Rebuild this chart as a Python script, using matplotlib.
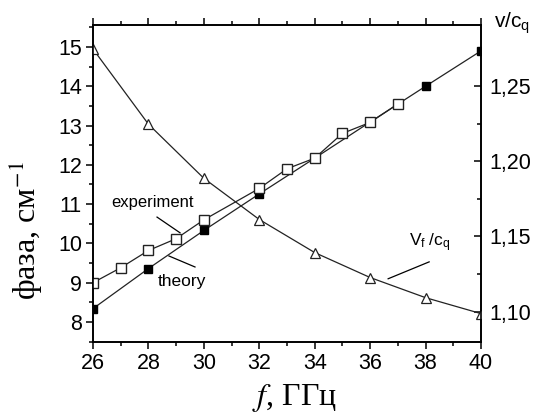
import matplotlib
matplotlib.use('Agg')
import matplotlib.pyplot as plt
from matplotlib.ticker import MultipleLocator, FuncFormatter

# данные
f_exp = [26, 27, 28, 29, 30, 32, 33, 34, 35, 36, 37]
phase_exp = [9.0, 9.38, 9.82, 10.12, 10.6, 11.4, 11.9, 12.17, 12.8, 13.08, 13.55]

f_theory = [26, 28, 30, 32, 34, 36, 38, 40]
phase_theory = [8.34, 9.36, 10.33, 11.26, 12.17, 13.09, 14.0, 14.9]

f_vel = [26, 28, 30, 32, 34, 36, 38, 40]
v_ratio = [1.2747, 1.2247, 1.1887, 1.1613, 1.1393, 1.1227, 1.1093, 1.0987]

x_ticks = [26, 28, 30, 32, 34, 36, 38, 40]
left_ticks = [8, 9, 10, 11, 12, 13, 14, 15]
right_ticks = [1.10, 1.15, 1.20, 1.25]

sans = ['Liberation Sans', 'DejaVu Sans']
serif = ['Liberation Serif', 'DejaVu Serif']
plt.rcParams['font.family'] = sans
plt.rcParams['mathtext.fontset'] = 'stix'

fig = plt.figure(figsize=(5.38, 4.18), dpi=100)
ax = fig.add_axes([0.1729, 0.1818, 0.894 - 0.1729, 0.9402 - 0.1818])
ax2 = ax.twinx()

ax.plot(f_theory, phase_theory, color='#222222', lw=0.9, marker='s', ms=6,
        mfc='black', mec='black', zorder=2)
ax.plot(f_exp, phase_exp, color='#222222', lw=0.9, marker='s', ms=7.5,
        mfc='white', mec='#222222', mew=1.0, zorder=3)
ax2.plot(f_vel, v_ratio, color='#222222', lw=0.9, marker='^', ms=7,
         mfc='white', mec='#222222', mew=0.9)

ax.set_xlim(26, 40)
ax.set_ylim(7.49, 15.56)
ax2.set_ylim(1.0798, 1.2907)

ax.set_xticks(x_ticks)
ax.set_yticks(left_ticks)
ax2.set_yticks(right_ticks)
ax.xaxis.set_minor_locator(MultipleLocator(1))
ax.yaxis.set_minor_locator(MultipleLocator(0.5))
ax2.yaxis.set_minor_locator(MultipleLocator(0.025))
ax2.yaxis.set_major_formatter(FuncFormatter(lambda v, _: f'{v:.2f}'.replace('.', ',')))

ax.tick_params(axis='both', which='both', labelsize=15.5, width=1.1)
ax.tick_params(axis='x', which='major', direction='out', length=5, top=True, pad=3)
ax.tick_params(axis='x', which='minor', direction='out', length=3, top=True)
ax.tick_params(axis='y', which='major', direction='out', length=5, pad=3)
ax.tick_params(axis='y', which='minor', direction='out', length=3)
ax2.tick_params(axis='y', which='major', direction='in', length=5, width=1.1,
                labelsize=15.5, pad=6)
ax2.tick_params(axis='y', which='minor', direction='in', length=3, width=1.1)

for a in (ax, ax2):
    for s in a.spines.values():
        s.set_linewidth(1.2)

ax.set_xlabel('$f$, ГГц', fontsize=23, family=serif)
ax.xaxis.set_label_coords(0.52, -0.125)
ax.set_ylabel('фаза, см$^{-1}$', fontsize=23, family=serif)
ax.yaxis.set_label_coords(-0.125, 0.35)

fig.text(0.952, 0.945, '$\\mathregular{v/c_q}$', fontsize=15, ha='center', va='center')

# подписи кривых с линиями-выносками
ax.text(28.13, 11.03, 'experiment', fontsize=12, ha='center', va='center')
ax.plot([28.31, 29.14], [10.67, 10.27], color='black', lw=0.9)
ax.text(29.21, 9.02, 'theory', fontsize=12.5, ha='center', va='center')
ax.plot([28.74, 29.68], [9.68, 9.40], color='black', lw=0.9)
ax.text(38.16, 10.01, '$\\mathregular{V_f\\ /c_q}$', fontsize=12.5, ha='center', va='center')
ax.plot([36.65, 38.13], [9.10, 9.53], color='black', lw=0.9)

fig.savefig('out.png', dpi=100)
